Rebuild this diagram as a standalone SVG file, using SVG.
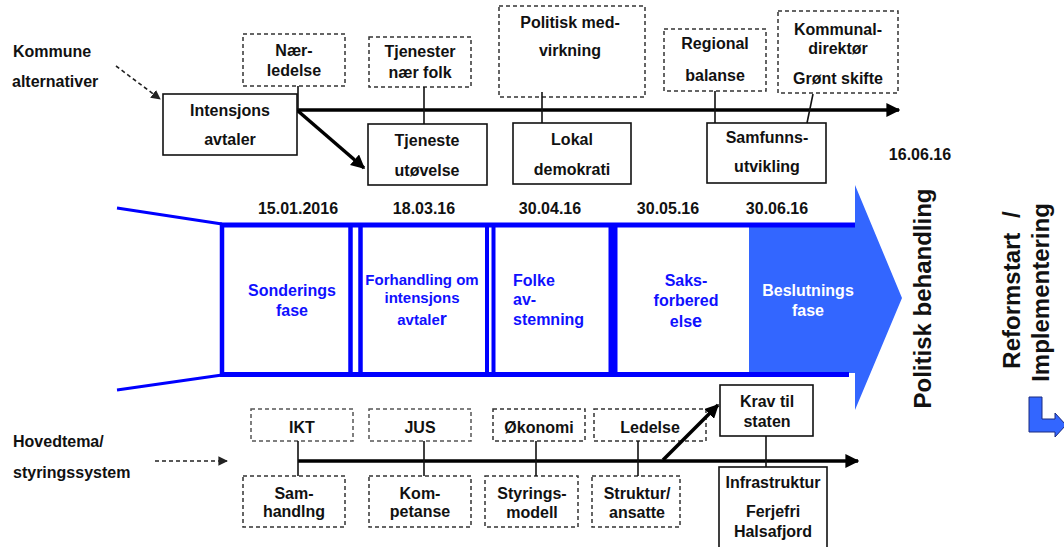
<svg xmlns="http://www.w3.org/2000/svg" width="1064" height="547" viewBox="0 0 1064 547">
<defs>
<style>
text{font-family:"Liberation Sans",Arial,sans-serif;font-weight:bold;font-size:16px;fill:#111}
.c{text-anchor:middle}
.ph{fill:#1010ff}
.w{fill:#ffffff}
.big{font-size:24px}
.box{fill:#fff;stroke:#111;stroke-width:1.6}
.dbox{fill:#fff;stroke:#333;stroke-width:1.5;stroke-dasharray:4 3}
.gbox{fill:#fff;stroke:#555;stroke-width:1.5;stroke-dasharray:4 3}
.axis{stroke:#000;stroke-width:3.5;fill:none}
.tick{stroke:#111;stroke-width:1.6;fill:none}
.dash{stroke:#222;stroke-width:1.6;stroke-dasharray:4 3;fill:none}
.bl{stroke:#0000ff;fill:none}
</style>
<marker id="ah" viewBox="0 0 10 10" refX="9" refY="5" markerWidth="4" markerHeight="4" orient="auto" markerUnits="strokeWidth">
<path d="M0,0 L10,5 L0,10 Z" fill="#000"/>
</marker>
<marker id="ahs" viewBox="0 0 10 10" refX="9" refY="5" markerWidth="6" markerHeight="6" orient="auto" markerUnits="strokeWidth">
<path d="M0,0 L10,5 L0,10 Z" fill="#222"/>
</marker>
</defs>
<rect width="1064" height="547" fill="#fff"/>

<!-- phase band -->
<g id="band">
<polygon points="749,227 855,227 855,185 902,298 855,410 855,373 749,373" fill="#3366ff"/>
<line class="bl" x1="117" y1="208" x2="222" y2="224" stroke-width="3"/>
<line class="bl" x1="117" y1="390" x2="222" y2="375" stroke-width="3"/>
<line class="bl" x1="220" y1="225" x2="855" y2="225" stroke-width="5"/>
<line class="bl" x1="220" y1="374.5" x2="849" y2="374.5" stroke-width="5"/>
<line class="bl" x1="222" y1="223" x2="222" y2="377" stroke-width="4.5"/>
<line class="bl" x1="350.5" y1="223" x2="350.5" y2="377" stroke-width="4.5"/>
<line class="bl" x1="360.5" y1="223" x2="360.5" y2="377" stroke-width="4.5"/>
<line class="bl" x1="487" y1="223" x2="487" y2="377" stroke-width="4"/>
<line class="bl" x1="493.5" y1="223" x2="493.5" y2="377" stroke-width="4"/>
<line class="bl" x1="613" y1="223" x2="613" y2="377" stroke-width="9"/>
</g>

<g id="dates">
<text class="c" x="298" y="214">15.01.2016</text>
<text class="c" x="424" y="214">18.03.16</text>
<text class="c" x="550" y="214">30.04.16</text>
<text class="c" x="668" y="214">30.05.16</text>
<text class="c" x="777" y="214">30.06.16</text>
<text class="c" x="920" y="160">16.06.16</text>
</g>

<g id="phase-sondering"><text class="c ph" x="292" y="296">Sonderings</text><text class="c ph" x="292" y="316">fase</text></g>
<g id="phase-forhandling"><text class="c ph" x="422" y="285" style="font-size:15px">Forhandling om</text><text class="c ph" x="422" y="303" style="font-size:15px">intensjons</text><text class="c ph" x="422" y="325" style="font-size:15px">avtale<tspan style="font-size:18px">r</tspan></text></g>
<g id="phase-folke"><text class="ph" x="513" y="286">Folke</text><text class="ph" x="513" y="305">av-</text><text class="ph" x="513" y="325">stemning</text></g>
<g id="phase-saks"><text class="c ph" x="686" y="286">Saks-</text><text class="c ph" x="686" y="306">forbered</text><text class="c ph" x="686" y="327">els<tspan style="font-size:18px">e</tspan></text></g>
<g id="phase-beslutning"><text class="c w" x="808" y="296">Beslutnings</text><text class="c w" x="808" y="316">fase</text></g>

<g id="politisk"><text class="c big" transform="translate(931,298.5) rotate(-90)">Politisk behandling</text></g>
<g id="reform">
<text class="c big" transform="translate(1020,290) rotate(-90)" style="word-spacing:8px">Reformstart /</text>
<text class="c big" transform="translate(1049,292.5) rotate(-90)">Implementering</text>
<polygon points="1029,397 1042,397 1042,419 1055,419 1055,413 1066,425 1055,437 1055,432 1029,432" fill="#3366ff" stroke="#1a2a80" stroke-width="1"/>
</g>

<!-- top nodes -->
<g id="kommune"><text x="13" y="57">Kommune</text><text x="12" y="87">alternativer</text></g>
<g id="intensjon"><rect class="box" x="163" y="94" width="134" height="61"/><text class="c" x="230" y="116">Intensjons</text><text class="c" x="230" y="145">avtaler</text></g>
<g id="naerledelse"><rect class="dbox" x="243" y="34" width="102" height="52"/><text class="c" x="294" y="56">Nær-</text><text class="c" x="294" y="76">ledelse</text></g>
<g id="tjenester"><rect class="dbox" x="369" y="37" width="102" height="50"/><text class="c" x="420" y="57">Tjenester</text><text class="c" x="420" y="78">nær folk</text></g>
<g id="tjeneste"><rect class="box" x="368" y="124" width="119" height="61"/><text class="c" x="427" y="146">Tjeneste</text><text class="c" x="427" y="176">utøvelse</text></g>
<g id="politisk-med"><rect class="dbox" x="499" y="6" width="146" height="91"/><text class="c" x="570" y="28">Politisk med-</text><text class="c" x="570" y="56">virkning</text></g>
<g id="lokal"><rect class="box" x="513" y="123" width="118" height="61"/><text class="c" x="572" y="145">Lokal</text><text class="c" x="572" y="175">demokrati</text></g>
<g id="regional"><rect class="dbox" x="664" y="29" width="102" height="62"/><text class="c" x="715" y="49">Regional</text><text class="c" x="715" y="81">balanse</text></g>
<g id="samfunn"><rect class="box" x="707" y="123" width="119" height="60"/><text class="c" x="767" y="143">Samfunns-</text><text class="c" x="767" y="172">utvikling</text></g>
<g id="kommunal"><rect class="dbox" x="778" y="11" width="120" height="82"/><text class="c" x="838" y="35">Kommunal-</text><text class="c" x="838" y="54">direktør</text><text class="c" x="838" y="84">Grønt skifte</text></g>

<!-- bottom nodes -->
<g id="hovedtema"><text x="13" y="447">Hovedtema/</text><text x="13" y="478">styringssystem</text></g>
<g id="ikt"><rect class="gbox" x="251" y="409" width="102" height="32"/><text class="c" x="302" y="433">IKT</text></g>
<g id="jus"><rect class="gbox" x="369" y="409" width="102" height="32"/><text class="c" x="420" y="433">JUS</text></g>
<g id="okonomi"><rect class="dbox" x="493" y="409" width="92" height="32"/><text class="c" x="539" y="433">Økonomi</text></g>
<g id="ledelse"><rect class="dbox" x="594" y="409" width="112" height="32"/><text class="c" x="650" y="433">Ledelse</text></g>
<g id="samhandling"><rect class="dbox" x="243" y="476" width="102" height="51"/><text class="c" x="294" y="499">Sam-</text><text class="c" x="294" y="517">handlng</text></g>
<g id="kompetanse"><rect class="dbox" x="369" y="476" width="102" height="51"/><text class="c" x="420" y="499">Kom-</text><text class="c" x="420" y="517">petanse</text></g>
<g id="styring"><rect class="dbox" x="485" y="476" width="93" height="51"/><text class="c" x="532" y="499">Styrings-</text><text class="c" x="532" y="518">modell</text></g>
<g id="struktur"><rect class="dbox" x="592" y="476" width="88" height="51"/><text class="c" x="637" y="499">Struktur/</text><text class="c" x="637" y="518">ansatte</text></g>
<g id="krav"><rect class="box" x="720" y="385" width="93" height="51"/><text class="c" x="767" y="407">Krav til</text><text class="c" x="767" y="427">staten</text></g>
<g id="infra"><rect class="box" x="719" y="467" width="108" height="84"/><text class="c" x="773" y="488">Infrastruktur</text><text class="c" x="773" y="517">Ferjefri</text><text class="c" x="773" y="537">Halsafjord</text></g>

<!-- connectors -->
<g id="connectors">
<line class="dash" x1="116" y1="66" x2="160" y2="99" marker-end="url(#ahs)"/>
<line class="axis" x1="297" y1="110" x2="899" y2="110" marker-end="url(#ah)"/>
<line class="axis" x1="298" y1="111" x2="364" y2="168" stroke-width="3" marker-end="url(#ah)"/>
<line class="tick" x1="298" y1="86" x2="298" y2="110"/>
<line class="tick" x1="424" y1="87" x2="424" y2="124"/>
<line class="tick" x1="542" y1="92" x2="542" y2="123" stroke="#555"/>
<line class="tick" x1="715" y1="91" x2="715" y2="123"/>
<line class="tick" x1="813" y1="94" x2="807" y2="123" stroke="#444"/>

<line class="dash" x1="155" y1="461" x2="227" y2="461" marker-end="url(#ahs)"/>
<line class="axis" x1="298" y1="461" x2="858" y2="461" marker-end="url(#ah)"/>
<line class="axis" x1="663" y1="460" x2="718" y2="405" stroke-width="3" marker-end="url(#ah)"/>
<line class="tick" x1="298" y1="441" x2="298" y2="476"/>
<line class="tick" x1="424" y1="441" x2="424" y2="476"/>
<line class="tick" x1="536" y1="441" x2="536" y2="476"/>
<line class="tick" x1="638" y1="441" x2="638" y2="476"/>
<line class="tick" x1="766" y1="436" x2="766" y2="467"/>
</g>
</svg>
